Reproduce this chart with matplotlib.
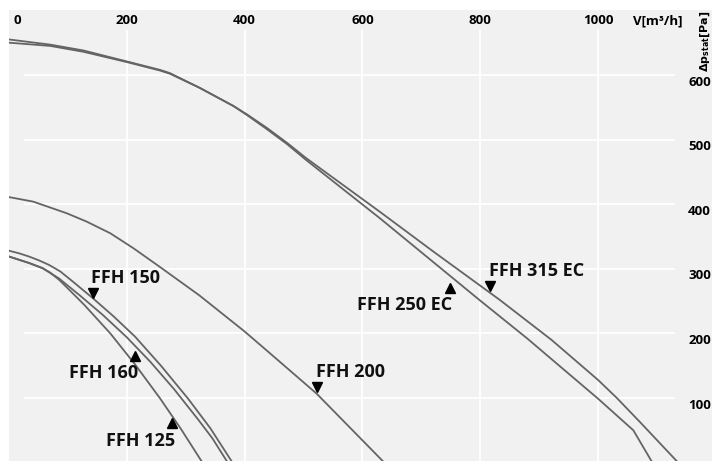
"""
Fan curves FFH: static pressure vs air volume.
"""

import matplotlib.pyplot as plt

plt.rcParams['font.family'] = ['Open Sans', 'DejaVu Sans']

# air volume [m3/h] and static pressure [Pa]
FFH315_V = [0, 70, 126, 200, 256, 273, 324, 381, 404, 438, 472, 505, 630, 720, 833, 921, 1000, 1032, 1071, 1134]
FFH315_P = [650, 645, 636, 620, 607, 602, 580, 552, 539, 518, 495, 471, 388, 327, 252, 190, 128, 100, 63, 2]

FFH250_V = [0, 70, 126, 200, 256, 273, 324, 381, 404, 438, 472, 505, 630, 797, 880, 1000, 1060, 1091]
FFH250_P = [655, 647, 638, 621, 608, 603, 580, 552, 538, 516, 493, 468, 378, 253, 192, 99, 50, 2]

FFH200_V = [0, 41, 98, 132, 172, 211, 256, 323, 400, 437, 522, 635]
FFH200_P = [411, 404, 386, 373, 355, 332, 303, 259, 203, 174, 107, 2]

FFH150_V = [0, 17, 34, 51, 68, 87, 110, 143, 178, 214, 258, 304, 342, 378]
FFH150_P = [328, 324, 319, 313, 306, 296, 279, 254, 226, 195, 150, 99, 53, 2]

FFH160_V = [0, 34, 57, 85, 120, 160, 200, 240, 280, 320, 345, 370]
FFH160_P = [319, 309, 301, 285, 259, 228, 194, 156, 114, 68, 38, 2]

FFH125_V = [0, 34, 57, 70, 85, 105, 128, 172, 214, 256, 292, 327]
FFH125_P = [319, 309, 301, 294, 283, 265, 244, 200, 152, 100, 52, 2]

X_TICKS = [0, 200, 400, 600, 800, 1000]
Y_TICKS = [100, 200, 300, 400, 500, 600]

LINE_COLOR = "#646464"
BG_COLOR = "#f1f1f1"
FONT_SIZE = 13


def main() -> None:
    fig = plt.figure(figsize=(7.12, 4.61), dpi=100)
    ax = fig.add_axes([9 / 712, 0, 703 / 712, 451 / 461])
    ax.set_facecolor(BG_COLOR)
    ax.set_xlim(0, 1193.5)
    ax.set_ylim(2.5, 700.6)
    for s in ax.spines.values():
        s.set_visible(False)
    ax.set_xticks([])
    ax.set_yticks([])

    # white grid, drawn only partway like the original sheet
    ax.vlines(X_TICKS[1:], 0, 670, color="white", lw=1.3, zorder=1)
    ax.hlines(Y_TICKS, 25, 1131, color="white", lw=1.3, zorder=1)

    for v, p in [(FFH315_V, FFH315_P), (FFH250_V, FFH250_P), (FFH200_V, FFH200_P),
                 (FFH150_V, FFH150_P), (FFH160_V, FFH160_P), (FFH125_V, FFH125_P)]:
        ax.plot(v, p, color=LINE_COLOR, lw=1.3, zorder=2, solid_joinstyle="round")

    # curve names with pointer triangles
    labels = [
        ("FFH 150", 198, 285, "v", 143, 263),
        ("FFH 160", 161, 139, "^", 214, 165),
        ("FFH 125", 224, 33, "^", 277, 61),
        ("FFH 200", 579, 140, "v", 523, 117),
        ("FFH 250 EC", 671, 244, "^", 749, 270),
        ("FFH 315 EC", 896, 297, "v", 817, 273),
    ]
    for name, tx, ty, mk, mx, my in labels:
        ax.text(tx, ty, name, fontsize=FONT_SIZE, fontweight="bold", color="#111111",
                ha="center", va="center", zorder=3)
        ax.plot(mx, my, marker=mk, color="black", markersize=7, zorder=3)

    # top axis numbers
    for x in X_TICKS:
        if x == 0:
            ax.text(7, 683.6, "0", fontsize=9.5, fontweight="bold", ha="left", va="center")
        else:
            ax.text(x, 683.6, str(x), fontsize=9.5, fontweight="bold", ha="center", va="center")
    ax.text(1101, 683.6, "V[m³/h]", fontsize=9.5, fontweight="bold", ha="center", va="center")

    # right axis numbers
    for y in Y_TICKS:
        ax.text(1153, y - 11, str(y), fontsize=9.5, fontweight="bold", ha="left", va="center")
    ax.text(1182, 652, r"$\mathbf{\Delta p_{stat}[Pa]}$", fontsize=8, rotation=90,
            ha="center", va="center")

    fig.savefig("out.png", dpi=100, facecolor="white")


if __name__ == "__main__":
    main()
